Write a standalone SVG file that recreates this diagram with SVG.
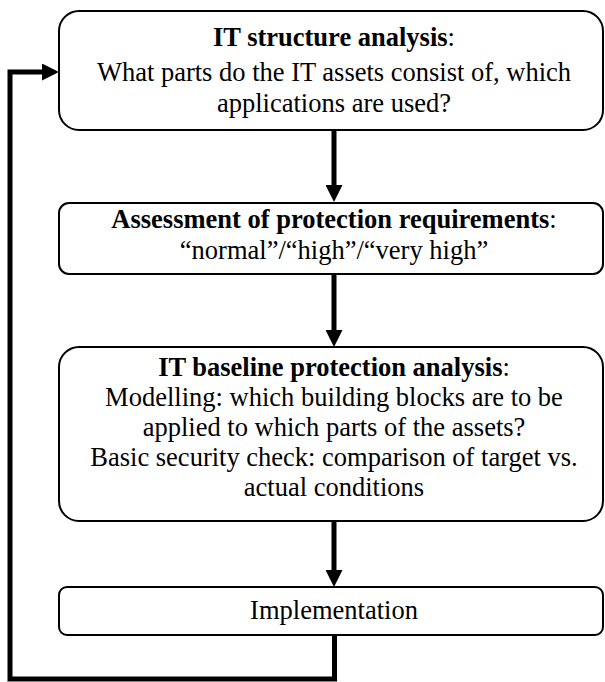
<svg xmlns="http://www.w3.org/2000/svg" width="605" height="682" viewBox="0 0 605 682">
  <style>
    .box { fill: #ffffff; stroke: #000000; stroke-width: 2; }
    .txt { font-family: "Times New Roman", "Liberation Serif", Tinos, "DejaVu Serif", serif; font-size: 26.5px; font-weight: normal; fill: #000000; text-anchor: middle; }
    .b { font-weight: bold; }
    .wire { fill: none; stroke: #000000; stroke-width: 5; stroke-linejoin: miter; }
  </style>
  <defs>
    <marker id="head" markerUnits="userSpaceOnUse" markerWidth="17" markerHeight="17" refX="0" refY="8.5" orient="auto">
      <path d="M0,0 L17,8.5 L0,17 Z" fill="#000000"/>
    </marker>
  </defs>

  <!-- flow arrows and the feedback loop back to the first step -->
  <g id="connectors">
    <path class="wire" d="M334,131 L334,185" marker-end="url(#head)"/>
    <path class="wire" d="M334,275 L334,330" marker-end="url(#head)"/>
    <path class="wire" d="M334,521 L334,570" marker-end="url(#head)"/>
    <path class="wire" d="M334.5,635 L334.5,679 L10,679 L10,72 L42,72" marker-end="url(#head)"/>
  </g>

  <g id="it-structure-analysis">
    <rect class="box" x="59" y="11" width="544" height="119" rx="20" ry="20"/>
    <text class="txt" x="334" y="46"><tspan class="b">IT structure analysis</tspan>:</text>
    <text class="txt" x="334" y="81">What parts do the IT assets consist of, which</text>
    <text class="txt" x="334" y="112">applications are used?</text>
  </g>

  <g id="protection-requirements">
    <rect class="box" x="59" y="203" width="544" height="71" rx="10" ry="10"/>
    <text class="txt" x="334" y="228"><tspan class="b">Assessment of protection requirements</tspan>:</text>
    <text class="txt" x="334" y="259">“normal”/“high”/“very high”</text>
  </g>

  <g id="baseline-protection-analysis">
    <rect class="box" x="59" y="347" width="544" height="174" rx="20" ry="20"/>
    <text class="txt" x="334" y="376"><tspan class="b">IT baseline protection analysis</tspan>:</text>
    <text class="txt" x="334" y="406">Modelling: which building blocks are to be</text>
    <text class="txt" x="334" y="436">applied to which parts of the assets?</text>
    <text class="txt" x="334" y="466">Basic security check: comparison of target vs.</text>
    <text class="txt" x="334" y="496">actual conditions</text>
  </g>

  <g id="implementation">
    <rect class="box" x="59" y="587" width="544" height="48" rx="8" ry="8"/>
    <text class="txt" x="334" y="619">Implementation</text>
  </g>
</svg>
